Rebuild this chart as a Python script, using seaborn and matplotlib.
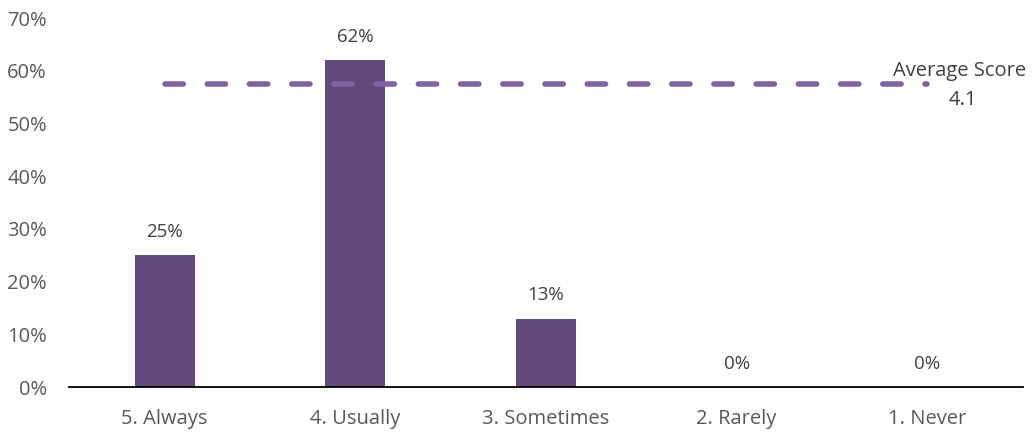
import matplotlib
matplotlib.use("Agg")
import matplotlib.pyplot as plt
import seaborn as sns
import pandas as pd
from matplotlib.ticker import FuncFormatter

categories = ["5. Always", "4. Usually", "3. Sometimes", "2. Rarely", "1. Never"]
shares = [25, 62, 13, 0, 0]
value_labels = ["25%", "62%", "13%", "0%", "0%"]
average_line_level = 57.5
average_score = "4.1"

sns.set_theme(style="white")
plt.rcParams["font.family"] = ["Open Sans", "DejaVu Sans"]

df = pd.DataFrame({"category": categories, "share": shares})

fig = plt.figure(figsize=(10.33, 4.32), dpi=100)
ax = fig.add_axes([0.067, 0.104, 0.923, 0.854])

sns.barplot(data=df, x="category", y="share", color="#604A7B", saturation=1,
            width=0.315, linewidth=0, ax=ax)

# dashed reference line for the average score
ax.plot([0, len(categories) - 1], [average_line_level] * 2, color="#8064A2",
        lw=4.0, dash_capstyle="round", linestyle=(0, (3.3, 4.3)), zorder=3)
ax.text(3.82, 60.0, "Average Score", ha="left", va="center", fontsize=14.5,
        color="#404040")
ax.text(4.26, 54.5, average_score, ha="right", va="center", fontsize=14.5,
        color="#404040")

for i, (v, lab) in enumerate(zip(shares, value_labels)):
    ax.text(i, v + 2.7, lab, ha="center", va="bottom", fontsize=13.5,
            color="#404040")

ax.set_ylim(0, 70)
ax.set_xlim(-0.5, len(categories) - 0.5)
ax.set_yticks(range(0, 71, 10))
ax.yaxis.set_major_formatter(FuncFormatter(lambda v, _: f"{v:.0f}%"))
ax.set_xlabel("")
ax.set_ylabel("")
ax.tick_params(axis="both", length=0, labelsize=14.5, colors="#595959")
ax.tick_params(axis="y", pad=16)
ax.tick_params(axis="x", pad=16)
for side in ["top", "right", "left"]:
    ax.spines[side].set_visible(False)
ax.spines["bottom"].set_color("#000000")
ax.spines["bottom"].set_linewidth(1.3)

fig.savefig("out.png", dpi=100)
